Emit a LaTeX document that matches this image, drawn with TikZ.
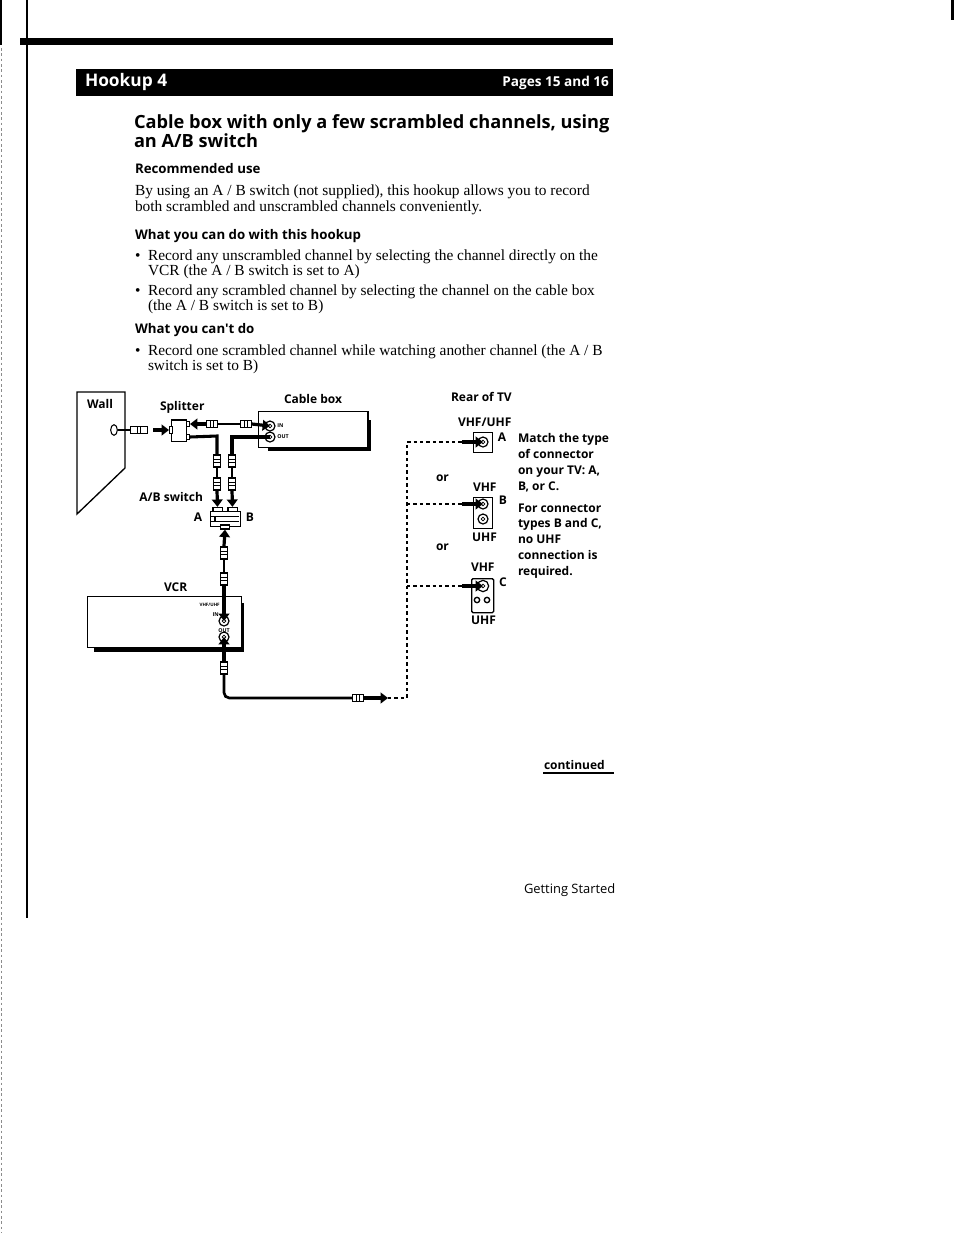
\documentclass[tikz,border=0pt]{standalone}
\usepackage{fontspec}
\setmainfont{Liberation Serif}
\newfontfamily\sansb{Open Sans}[BoldFont={Open Sans Bold}]
\usetikzlibrary{arrows.meta,shapes.geometric}
\tikzset{
  lab/.style={inner sep=0pt,outer sep=0pt,anchor=base west,font=\sansb\fontsize{9}{11}\selectfont\bfseries,text=black},
  labc/.style={lab,anchor=base},
  body/.style={inner sep=0pt,outer sep=0pt,anchor=base west,font=\fontsize{11.55}{13}\selectfont,text=black},
  sub/.style={lab,font=\sansb\fontsize{9.95}{12}\selectfont\bfseries},
  head/.style={lab,font=\sansb\fontsize{13.65}{15}\selectfont\bfseries},
  tiny/.style={inner sep=0pt,font=\sansb\fontsize{4}{4}\selectfont\bfseries},
  dev/.style={draw=black,line width=1pt,fill=white,inner sep=0pt,minimum width=0pt},
  wire/.style={draw=black,line width=1.1pt},
  thick wire/.style={draw=black,line width=2.3pt},
  arr/.style={draw=black,line width=2.4pt,-{Triangle[length=5.5pt,width=8pt]}},
  link/.style={draw=black,line width=1pt,dash pattern=on 2.6pt off 2.2pt},
  plugh/.style={draw=black,line width=.8pt,fill=white,minimum width=8pt,minimum height=5.5pt,inner sep=0pt,
    path picture={\draw[line width=.7pt] ([xshift=-1pt]path picture bounding box.south) -- ([xshift=-1pt]path picture bounding box.north) ([xshift=1.2pt]path picture bounding box.south) -- ([xshift=1.2pt]path picture bounding box.north);}},
  plugv/.style={draw=black,line width=.8pt,fill=white,minimum width=5.5pt,minimum height=9pt,inner sep=0pt,
    path picture={\draw[line width=.7pt] ([yshift=-1pt]path picture bounding box.west) -- ([yshift=-1pt]path picture bounding box.east) ([yshift=1.2pt]path picture bounding box.west) -- ([yshift=1.2pt]path picture bounding box.east);}},
  jack/.style={circle,draw=black,line width=.9pt,fill=white,minimum size=7.5pt,inner sep=0pt,
    path picture={\draw[line width=.6pt] (path picture bounding box.center) circle (1.4pt);}},
  pin/.style={circle,draw=black,line width=1pt,fill=white,minimum size=4pt,inner sep=0pt},
}
\begin{document}
\begin{tikzpicture}[x=.75pt,y=-.75pt]
\useasboundingbox (0,0) rectangle (954,1233);
% page scan marks
\draw[black,line width=.8pt] (27,0) -- (27,918);
\draw[black!45,line width=.5pt,dash pattern=on 2pt off 2pt] (1,0) -- (1,1233);
\draw[black,line width=1.5pt] (1,0) -- (1,45);
\fill[black] (951,0) rectangle (954,20);
\fill[black] (20,38) rectangle (613,45);
% banner
\fill[black] (76,69) rectangle (613,96);
\node[lab,text=white,font=\sansb\fontsize{13}{15}\selectfont\bfseries] (t1) at (85,86) {Hookup 4};
\node[lab,anchor=base east,text=white,font=\sansb\fontsize{10.2}{12}\selectfont\bfseries] (t2) at (609,86) {Pages 15 and 16};
% text
\node[head] (h1) at (134,128) {Cable box with only a few scrambled channels, using};
\node[head] (h2) at (134,147) {an A/B switch};
\node[sub] (s1) at (135,173) {Recommended use};
\node[body] (b1) at (135,195) {By using an A / B switch (not supplied), this hookup allows you to record};
\node[body] (b2) at (135,211) {both scrambled and unscrambled channels conveniently.};
\node[sub] (s2) at (135,239) {What you can do with this hookup};
\node[body] (b3) at (135,260) {•};
\node[body] (b4) at (148,260) {Record any unscrambled channel by selecting the channel directly on the};
\node[body] (b5) at (148,275) {VCR (the A / B switch is set to A)};
\node[body] (b6) at (135,295) {•};
\node[body] (b7) at (148,295) {Record any scrambled channel by selecting the channel on the cable box};
\node[body] (b8) at (148,310) {(the A / B switch is set to B)};
\node[sub] (s3) at (135,333) {What you can't do};
\node[body] (b9) at (135,355) {•};
\node[body] (b10) at (148,355) {Record one scrambled channel while watching another channel (the A / B};
\node[body] (b11) at (148,370) {switch is set to B)};
% wall
\draw[black,line width=1pt] (77,392) -- (125,392) -- (125,468) -- (77,514) -- cycle;
\node[lab] (lw) at (87,408) {Wall};
\node[draw=black,ellipse,line width=.8pt,minimum width=5pt,minimum height=8pt,inner sep=0pt,fill=white] (outlet) at (114,430) {};
\node[plugh,minimum width=13pt] (p1) at (139,430) {};
\draw[wire] (outlet) -- (p1);
\coordinate (a1s) at (153,430);
\coordinate (a1e) at (169,430);
\draw[arr] (a1s) -- (a1e);
% splitter
\node[lab] (ls) at (160,410) {Splitter};
\node[dev,minimum width=11pt,minimum height=16pt,anchor=center] (split) at (179,430.5) {};
\node[dev,minimum width=2pt,minimum height=5pt] (st0) at (171,430) {};
\node[dev,minimum width=2pt,minimum height=4pt] (st1) at (188,424) {};
\node[dev,minimum width=2pt,minimum height=4pt] (st2) at (188,437) {};
% cable box
\fill[black] (268,447) rectangle (371,451);
\fill[black] (367,420) rectangle (371,451);
\node[dev,minimum width=82pt,minimum height=27pt,anchor=north west] (cbox) at (258,411) {};
\node[lab] (lc) at (284,403) {Cable box};
\node[jack] (cin) at (270,426) {};
\node[jack] (cout) at (270,437) {};
\node[tiny,anchor=west] (lin) at (277,426) {IN};
\node[tiny,anchor=west] (lout) at (277,437) {OUT};
% splitter to cable IN
\node[plugh] (p2) at (212,424) {};
\node[plugh] (p3) at (246,424) {};
\draw[wire] (p2) -- (p3);
\draw[arr] (p2.west) -- (st1.east);
\draw[arr] (p3.east) -- (cin.center);
% A/B switch
\node[lab,anchor=base east] (lab1) at (203,501) {A/B switch};
\node[labc] (lA) at (198,521) {A};
\node[labc] (lB) at (250,521) {B};
\node[dev,minimum width=7pt,minimum height=3pt] (abt1) at (217.5,509.5) {};
\node[dev,minimum width=7pt,minimum height=3pt] (abt2) at (232.5,509.5) {};
\node[dev,minimum width=22.5pt,minimum height=11pt,anchor=north west] (ab) at (210,511) {};
\node[dev,minimum width=7pt,minimum height=3pt] (abt3) at (225,527) {};
\fill[black] (211,516) rectangle (239,517);
\fill[black] (211,520.5) rectangle (239,521.5);
\fill[black] (214,517) rectangle (216,521);
\node[plugv] (pa1) at (217,461) {};
\node[plugv] (pa2) at (217,484) {};
\coordinate (ca) at (217,436);
\draw[thick wire] (st2.east) -- (ca) -- (pa1.north);
\draw[wire] (pa1) -- (pa2);
\draw[arr] (pa2.south) -- (abt1.north);
\node[plugv] (pb1) at (232,461) {};
\node[plugv] (pb2) at (232,484) {};
\coordinate (cb) at (232,437);
\draw[thick wire] (cout.center) -- (cb) -- (pb1.north);
\draw[wire] (pb1) -- (pb2);
\draw[arr] (pb2.south) -- (abt2.north);
% VCR
\fill[black] (94,648) rectangle (244,652);
\fill[black] (241,603) rectangle (244,652);
\node[dev,minimum width=115.5pt,minimum height=38pt,anchor=north west] (vcr) at (87,596) {};
\node[lab] (lv) at (164,591) {VCR};
\node[tiny,anchor=base east,font=\sansb\fontsize{3.4}{4}\selectfont\bfseries] (lvu) at (220,606) {VHF/UHF};
\node[tiny,anchor=base east] (lvi) at (219,616) {IN};
\node[tiny,anchor=base] (lvo) at (224,632) {OUT};
\node[jack] (vin) at (224,621) {};
\node[jack] (vout) at (224,637) {};
\node[plugv] (pv1) at (224,553) {};
\node[plugv] (pv2) at (224,579) {};
\coordinate (va) at (224,546);
\draw[arr] (va) -- (abt3.south);
\draw[thick wire] (pv1.north) -- (va);
\draw[wire] (pv1) -- (pv2);
\draw[arr] (pv2.south) -- (vin.center);
\node[plugv] (pv3) at (224,668) {};
\draw[arr] (pv3.north) -- (vout.center);
\node[plugh] (p5) at (358,698) {};
\coordinate (vc) at (224,698);
\draw[black,line width=2pt,rounded corners=4pt] (pv3.south) -- (vc) -- (p5.west);
\coordinate (a5e) at (388,698);
\draw[arr] (p5.east) -- (a5e);
% TV
\node[lab] (lr) at (451,401) {Rear of TV};
\node[lab] (lvh) at (458,426) {VHF/UHF};
\node[dev,minimum width=14pt,minimum height=15pt,anchor=north west] (tva) at (473,432) {};
\node[jack] (ja) at (483,442) {};
\node[labc] (la) at (502,441) {A};
\node[lab] (o1) at (436,481) {or};
\node[lab] (lvhb) at (473,491) {VHF};
\node[dev,minimum width=14pt,minimum height=23pt,anchor=north west] (tvb) at (473,497) {};
\node[jack] (jb) at (483,504) {};
\node[jack] (jb2) at (483,519) {};
\node[labc] (lbb) at (503,504) {B};
\node[lab] (lub) at (472,541) {UHF};
\node[lab] (o2) at (436,550) {or};
\node[lab] (lvhc) at (471,571) {VHF};
\node[dev,minimum width=16.5pt,minimum height=25.5pt,anchor=north west,rounded corners=1pt] (tvc) at (471,578) {};
\node[jack,minimum size=8.5pt] (jc) at (483,586) {};
\node[pin] (jc1) at (477,600) {};
\node[pin] (jc2) at (487,600) {};
\node[labc] (lcc) at (503,586) {C};
\node[lab] (luc) at (471,624) {UHF};
% dashed links
\coordinate (d0) at (407,698);
\coordinate (da) at (407,442);
\coordinate (db) at (407,504);
\coordinate (dc) at (407,586);
\coordinate (ea) at (462,442);
\coordinate (eb) at (462,504);
\coordinate (ec) at (462,586);
\draw[link] (a5e) -- (d0) -- (da) -- (ea);
\draw[link] (db) -- (eb);
\draw[link] (dc) -- (ec);
\draw[arr] (ea) -- (ja.center);
\draw[arr] (eb) -- (jb.center);
\draw[arr] (ec) -- (jc.center);
% side note
\node[lab] (n1) at (518,442) {Match the type};
\node[lab] (n2) at (518,458) {of connector};
\node[lab] (n3) at (518,474) {on your TV: A,};
\node[lab] (n4) at (518,490) {B, or C.};
\node[lab] (n5) at (518,512) {For connector};
\node[lab] (n6) at (518,527) {types B and C,};
\node[lab] (n7) at (518,543) {no UHF};
\node[lab] (n8) at (518,559) {connection is};
\node[lab] (n9) at (518,575) {required.};
% footer
\node[lab] (f1) at (544,769) {continued};
\fill[black] (543,772) rectangle (614,774);
\node[lab,font=\sansb\fontsize{9.7}{11}\selectfont] (f2) at (524,893) {Getting Started};
\end{tikzpicture}
\end{document}
